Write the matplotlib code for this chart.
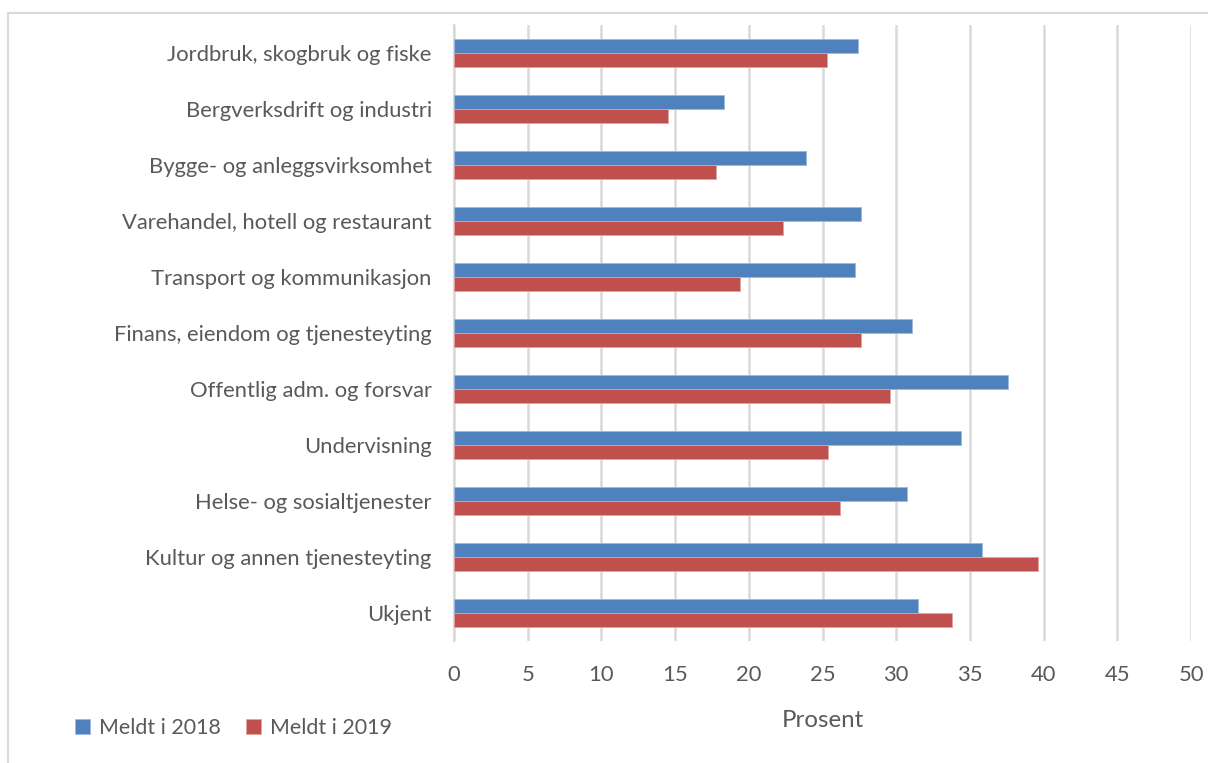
import numpy as np
import matplotlib.pyplot as plt
from matplotlib.patches import Rectangle

# data (prosent)
kategorier = ["Jordbruk, skogbruk og fiske", "Bergverksdrift og industri",
              "Bygge- og anleggsvirksomhet", "Varehandel, hotell og restaurant",
              "Transport og kommunikasjon", "Finans, eiendom og tjenesteyting",
              "Offentlig adm. og forsvar", "Undervisning",
              "Helse- og sosialtjenester", "Kultur og annen tjenesteyting", "Ukjent"]
meldt_2018 = [27.4, 18.3, 23.9, 27.6, 27.2, 31.1, 37.6, 34.4, 30.7, 35.8, 31.5]
meldt_2019 = [25.3, 14.5, 17.8, 22.3, 19.4, 27.6, 29.6, 25.4, 26.2, 39.6, 33.8]

blaa = "#4F81BD"
roed = "#C0504D"
grå = "#595959"

plt.rcParams['font.family'] = ['Lato', 'DejaVu Sans']

fig = plt.figure(figsize=(12.08, 7.63), dpi=100)
ax = fig.add_axes([454 / 1208, 1 - 641 / 763, (1191 - 454) / 1208, (641 - 25) / 763])

# chart border
fig.patches.append(Rectangle((8 / 1208, -0.01), 1.0, 1 - 13 / 763 + 0.01,
                             transform=fig.transFigure, fill=False,
                             edgecolor="#D9D9D9", linewidth=1.5))

y = np.arange(len(kategorier))
h = 0.25
ax.barh(y - h / 2, meldt_2018, height=h, color=blaa, edgecolor="#9DB9DE", linewidth=0.6,
        label="Meldt i 2018", zorder=3)
ax.barh(y + h / 2, meldt_2019, height=h, color=roed, edgecolor="#E0A3A1", linewidth=0.6,
        label="Meldt i 2019", zorder=3)

ax.set_ylim(len(kategorier) - 0.5, -0.5)
ax.set_xlim(0, 50)
ax.set_xticks(np.arange(0, 51, 5))
ax.set_yticks(y)
ax.set_yticklabels(kategorier)
ax.grid(axis="x", color="#D9D9D9", linewidth=1.8, zorder=0)

for s in ["top", "right", "bottom"]:
    ax.spines[s].set_visible(False)
ax.spines["left"].set_color("#D9D9D9")
ax.spines["left"].set_linewidth(1.5)

ax.tick_params(axis="y", length=0, pad=16, labelsize=15.8, labelcolor=grå)
ax.tick_params(axis="x", length=0, pad=17, labelsize=15.8, labelcolor=grå)

ax.set_xlabel("Prosent", fontsize=17.3, color=grå, labelpad=18)

ax.legend(loc="center left", bbox_to_anchor=(56 / 1208, 1 - 728 / 763), bbox_transform=fig.transFigure,
          ncol=2, frameon=False, fontsize=15.4, labelcolor=grå, handlelength=0.7,
          handleheight=0.7, handletextpad=0.4, columnspacing=1.2)

fig.savefig("out.png", dpi=100)
